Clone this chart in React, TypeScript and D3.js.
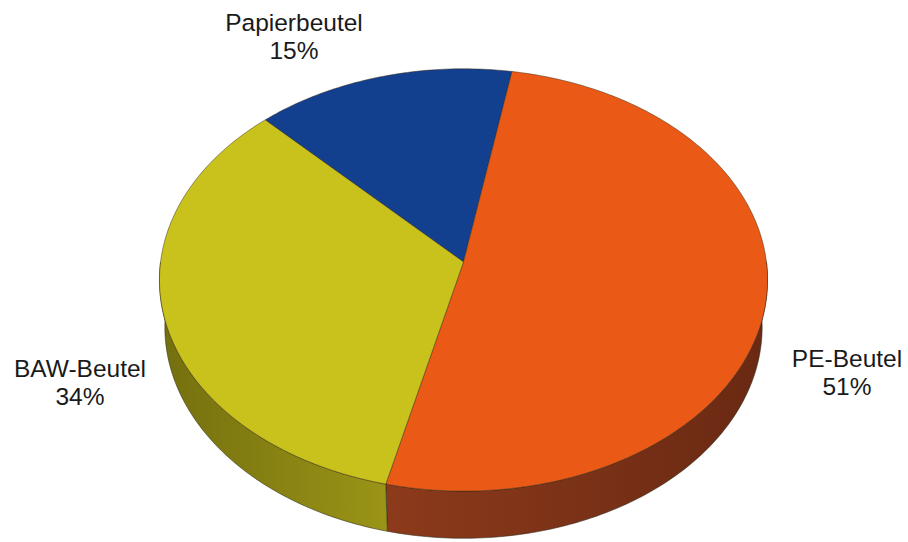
import React from "react";
import * as d3 from "d3";

const categories = ["Papierbeutel", "PE-Beutel", "BAW-Beutel"];
const values = [15, 51, 34];
const percentLabels = ["15%", "51%", "34%"];
const topColors = ["#123f8e", "#ea5a16", "#c9c11c"];
const sideLight = ["#1d3f7a", "#8c3a1b", "#9a9417"];
const sideDark = ["#0c2550", "#6a2913", "#746f0e"];

const W = 908;
const H = 542;
const cx = 463.5;
const cy = 262;
const K = 2575;
const DIST = 8.5;
const SIN_T = 0.692;
const COS_T = 0.722;
const DEPTH = 0.22;
const START = (-44 * Math.PI) / 180;

// label anchors (center x, first baseline y)
const labelLayout = [
  { x: 294, y: 31 },
  { x: 847, y: 367 },
  { x: 80, y: 377 },
];

function project(a: number, y: number, r = 1): [number, number] {
  const x3 = Math.sin(a) * r;
  const z3 = Math.cos(a) * r;
  const D = DIST + z3 * COS_T - y * SIN_T;
  const v = z3 * SIN_T + y * COS_T;
  return [cx + (K * x3) / D, cy - (K * v) / D];
}

function sample(a0: number, a1: number, y: number): [number, number][] {
  const n = Math.max(2, Math.ceil((Math.abs(a1 - a0) / Math.PI) * 180));
  return d3.range(n + 1).map((i) => project(a0 + ((a1 - a0) * i) / n, y));
}

export default function App() {
  const pie = d3
    .pie<number>()
    .sort(null)
    .startAngle(START)
    .endAngle(START + 2 * Math.PI);
  const arcs = pie(values);
  const line = d3.line().curve(d3.curveLinearClosed);

  const walls: { d: string; i: number }[] = [];
  arcs.forEach((arc, i) => {
    // visible front half: angles in (PI/2, 3PI/2) modulo 2PI
    for (let k = -1; k <= 1; k++) {
      const lo = Math.PI / 2 + k * 2 * Math.PI;
      const hi = (3 * Math.PI) / 2 + k * 2 * Math.PI;
      const a0 = Math.max(arc.startAngle, lo);
      const a1 = Math.min(arc.endAngle, hi);
      if (a1 > a0) {
        const top = sample(a0, a1, 0);
        const bot = sample(a0, a1, -DEPTH).reverse();
        walls.push({ d: line([...top, ...bot]) as string, i });
      }
    }
  });

  const tops = arcs.map((arc, i) => {
    const pts = [project(0, 0, 0), ...sample(arc.startAngle, arc.endAngle, 0)];
    return line(pts) as string;
  });

  return (
    <svg
      width={W}
      height={H}
      style={{ position: "absolute", left: 0, top: 0, background: "#fff" }}
    >
      <defs>
        {categories.map((c, i) => (
          <linearGradient key={c} id={`side${i}`} x1="0" x2="1" y1="0" y2="0">
            <stop offset="0%" stopColor={i === 2 ? sideDark[i] : sideLight[i]} />
            <stop offset="100%" stopColor={i === 2 ? sideLight[i] : sideDark[i]} />
          </linearGradient>
        ))}
      </defs>
      {walls.map((w, j) => (
        <path
          key={`w${j}`}
          d={w.d}
          fill={`url(#side${w.i})`}
          stroke="#2a2a1a"
          strokeWidth={0.8}
          strokeOpacity={0.7}
        />
      ))}
      {tops.map((d, i) => (
        <path
          key={`t${i}`}
          d={d}
          fill={topColors[i]}
          stroke="#3a2a10"
          strokeWidth={0.8}
          strokeOpacity={0.6}
        />
      ))}
      {categories.map((c, i) => (
        <text
          key={`l${i}`}
          x={labelLayout[i].x}
          y={labelLayout[i].y}
          textAnchor="middle"
          fontFamily="'Liberation Sans', Arial, sans-serif"
          fontSize={24.5}
          fill="#1a1a1a"
        >
          <tspan x={labelLayout[i].x}>{c}</tspan>
          <tspan x={labelLayout[i].x} dy={27.5}>
            {percentLabels[i]}
          </tspan>
        </text>
      ))}
    </svg>
  );
}
